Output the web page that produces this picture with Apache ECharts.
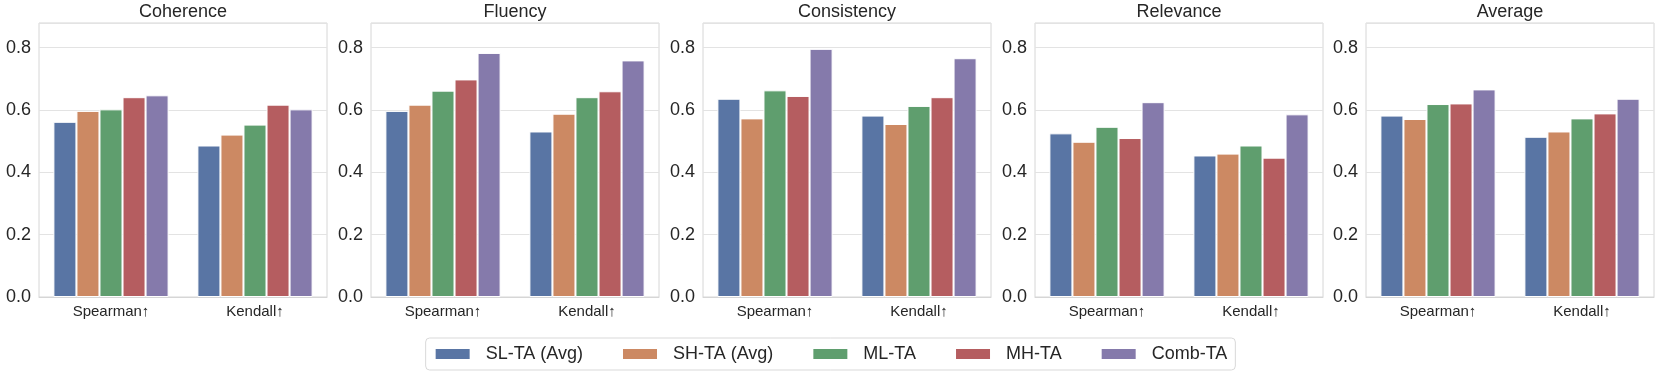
<!DOCTYPE html>
<html>
<head>
<meta charset="utf-8">
<script src="https://cdn.jsdelivr.net/npm/echarts@6/dist/echarts.min.js"></script>
<style>
html,body{margin:0;padding:0;background:#fff;}
#chart{width:1661px;height:376px;}
</style>
</head>
<body>
<div id="chart"></div>
<script>
const panels = ['Coherence', 'Fluency', 'Consistency', 'Relevance', 'Average'];
const categories = ['Spearman\u2191', 'Kendall\u2191'];
const methods = ['SL-TA (Avg)', 'SH-TA (Avg)', 'ML-TA', 'MH-TA', 'Comb-TA'];
const colors = ['#5975a4', '#cc8963', '#5f9e6e', '#b55d60', '#857aab'];
const yTicks = [0, 0.2, 0.4, 0.6, 0.8];

// values per method: [Spearman, Kendall]
const coherence   = [[0.562, 0.486], [0.597, 0.521], [0.602, 0.553], [0.641, 0.617], [0.647, 0.602]];
const fluency     = [[0.597, 0.531], [0.617, 0.588], [0.662, 0.641], [0.698, 0.660], [0.783, 0.759]];
const consistency = [[0.636, 0.582], [0.573, 0.555], [0.663, 0.613], [0.645, 0.641], [0.796, 0.766]];
const relevance   = [[0.525, 0.454], [0.498, 0.460], [0.546, 0.486], [0.510, 0.447], [0.625, 0.586]];
const average     = [[0.582, 0.514], [0.571, 0.531], [0.619, 0.573], [0.621, 0.589], [0.666, 0.636]];
const panelData = [coherence, fluency, consistency, relevance, average];

const FONT = "'Liberation Sans', Arial, sans-serif";
const TXT = '#262626';
const gridLefts = [39, 371, 703, 1035, 1366];
const gridWidth = 288;
const gridTop = 23;
const gridHeight = 274;

const grids = [], xAxes = [], yAxes = [], titles = [], series = [];
panels.forEach((p, i) => {
  grids.push({left: gridLefts[i], top: gridTop, width: gridWidth, height: gridHeight,
    show: true, borderColor: '#d6d6d6', borderWidth: 1, backgroundColor: '#fff', containLabel: false});
  xAxes.push({type: 'category', gridIndex: i, data: categories,
    axisTick: {show: false}, axisLine: {show: true, lineStyle: {color: '#d6d6d6', width: 1}},
    axisLabel: {color: TXT, fontSize: 15, fontFamily: FONT, margin: 7},
    splitLine: {show: false}});
  yAxes.push({type: 'value', gridIndex: i, min: 0, max: 0.879, interval: 0.2,
    axisLine: {show: false}, axisTick: {show: false},
    axisLabel: {color: TXT, fontSize: 18, fontFamily: FONT, margin: 8, showMaxLabel: false,
      formatter: v => yTicks.some(t => Math.abs(t - v) < 1e-6) ? v.toFixed(1) : ''},
    splitLine: {show: true, lineStyle: {color: '#e3e3e3', width: 1}}});
  titles.push({text: p, left: gridLefts[i] + gridWidth / 2, top: 3, textAlign: 'center', padding: 0,
    textStyle: {color: TXT, fontSize: 18, fontWeight: 'normal', fontFamily: FONT}});
  methods.forEach((m, j) => {
    series.push({name: m, type: 'bar', xAxisIndex: i, yAxisIndex: i,
      data: panelData[i][j], barGap: '0%', barCategoryGap: '20%',
      itemStyle: {color: colors[j], borderColor: '#ffffff', borderWidth: 1},
      emphasis: {disabled: true}, animation: false});
  });
});

const chart = echarts.init(document.getElementById('chart'), null, {renderer: 'canvas'});
chart.setOption({
  animation: false,
  backgroundColor: '#ffffff',
  color: colors,
  title: titles,
  grid: grids,
  xAxis: xAxes,
  yAxis: yAxes,
  legend: {
    data: methods, left: 'center', top: 338, orient: 'horizontal',
    itemWidth: 36, itemHeight: 12, itemGap: 38, icon: 'rect',
    padding: [7, 8, 7, 8], borderColor: '#d9d9d9', borderWidth: 1, borderRadius: 4,
    backgroundColor: '#fff',
    textStyle: {color: TXT, fontSize: 18, fontFamily: FONT, padding: [0, 0, 0, 10]}
  },
  series: series
});
</script>
</body>
</html>
